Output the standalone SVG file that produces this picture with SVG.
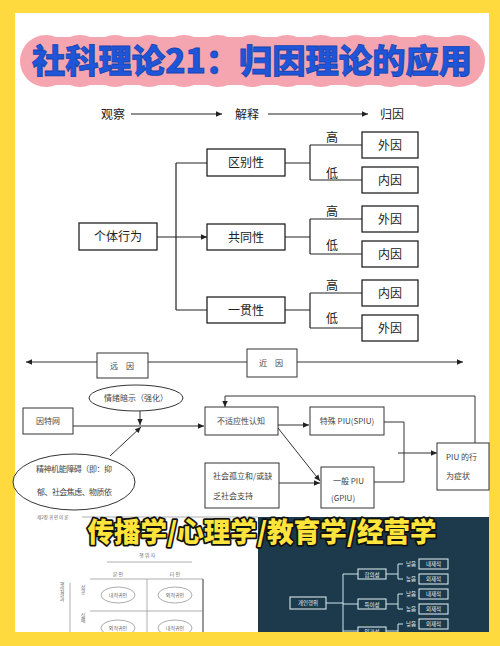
<svg xmlns="http://www.w3.org/2000/svg" width="500" height="646" viewBox="0 0 500 646">
<style>
.t{font-family:"Noto Sans CJK SC","Noto Sans CJK JP",sans-serif;fill:#222}
.k{font-family:"Noto Sans CJK KR",sans-serif}
.m{font-size:12px;text-anchor:middle}
.s{font-size:8px;fill:#444}
.c{text-anchor:middle}
.box{fill:#fff;stroke:#222;stroke-width:1.3}
.sbox{fill:#fff;stroke:#333;stroke-width:1}
.ln{fill:none;stroke:#222;stroke-width:1.2}
.ln2{fill:none;stroke:#333;stroke-width:1}
.g{fill:none;stroke:#999;stroke-width:0.8}
.kt{font-size:5px;fill:#666;text-anchor:middle}
.dk{fill:none;stroke:#cfe6ee;stroke-width:1}
.dt{font-size:5.5px;fill:#e6f3f7;text-anchor:middle}
</style>
<defs>
<marker id="ah" viewBox="0 0 10 10" refX="10" refY="5" markerWidth="8" markerHeight="6" orient="auto-start-reverse" markerUnits="userSpaceOnUse"><path d="M0,0.5 L10,5 L0,9.5 z" fill="#222"/></marker>
<marker id="ah2" viewBox="0 0 10 10" refX="10" refY="5" markerWidth="7" markerHeight="6" orient="auto-start-reverse" markerUnits="userSpaceOnUse"><path d="M0,0.5 L10,5 L0,9.5 z" fill="#222"/></marker>
</defs>
<rect x="0" y="0" width="500" height="646" fill="#FFDA3E"/>
<rect x="15" y="13" width="474" height="619" fill="#fff"/>

<g id="title">
<g fill="#F5A5B0">
<circle cx="46" cy="61" r="26"/><circle cx="80" cy="61" r="26"/><circle cx="115" cy="61" r="26"/><circle cx="149" cy="61" r="26"/><circle cx="184" cy="61" r="26"/><circle cx="218" cy="61" r="26"/><circle cx="252" cy="61" r="26"/><circle cx="287" cy="61" r="26"/><circle cx="321" cy="61" r="26"/><circle cx="356" cy="61" r="26"/><circle cx="390" cy="61" r="26"/><circle cx="425" cy="61" r="26"/><circle cx="459" cy="61" r="26"/>
<rect x="46" y="37" width="413" height="48"/>
</g>
<text x="252" y="73" font-family="'Noto Sans CJK SC',sans-serif" font-size="33" font-weight="900" fill="#1F55D8" stroke="#1544B0" stroke-width="0.8" text-anchor="middle" textLength="440" lengthAdjust="spacingAndGlyphs">社科理论21：归因理论的应用</text>
</g>

<g id="connectors-top">
<path class="ln" d="M131,114 H222" marker-end="url(#ah)"/>
<path class="ln" d="M268,114 H368" marker-end="url(#ah)"/>
<path class="ln" d="M176,163 V310 M176,163 H207 M176,310 H207"/>
<path class="ln" d="M157,237 H207" marker-end="url(#ah)"/>
<path class="ln" d="M285,163 H310 M310,145 V180 M310,145 H362 M310,180 H362"/>
<path class="ln" d="M285,237 H310 M310,219 V254 M310,219 H362 M310,254 H362"/>
<path class="ln" d="M285,310 H310 M310,293 V328 M310,293 H362 M310,328 H362"/>
</g>

<g id="header-labels">
<text class="t m" x="113" y="118.5">观察</text>
<text class="t m" x="247" y="118.5">解释</text>
<text class="t m" x="392" y="118.5">归因</text>
<text class="t m" x="332" y="141.5">高</text>
<text class="t m" x="332" y="177.5">低</text>
<text class="t m" x="332" y="215.5">高</text>
<text class="t m" x="332" y="249.5">低</text>
<text class="t m" x="332" y="289.5">高</text>
<text class="t m" x="332" y="322.5">低</text>
</g>

<g id="node-individual"><rect class="box" x="79" y="223" width="78" height="27"/><text class="t m" x="118" y="241">个体行为</text></g>
<g id="node-distinct"><rect class="box" x="207" y="149" width="78" height="27"/><text class="t m" x="246" y="167">区别性</text></g>
<g id="node-consensus"><rect class="box" x="207" y="224" width="78" height="26"/><text class="t m" x="246" y="241.5">共同性</text></g>
<g id="node-consistency"><rect class="box" x="207" y="297" width="78" height="26"/><text class="t m" x="246" y="314.5">一贯性</text></g>
<g id="node-o1"><rect class="box" x="362" y="132" width="56" height="26"/><text class="t m" x="390" y="149.5">外因</text></g>
<g id="node-o2"><rect class="box" x="362" y="167" width="56" height="26"/><text class="t m" x="390" y="184.5">内因</text></g>
<g id="node-o3"><rect class="box" x="362" y="206" width="56" height="26"/><text class="t m" x="390" y="223.5">外因</text></g>
<g id="node-o4"><rect class="box" x="362" y="241" width="56" height="26"/><text class="t m" x="390" y="258.5">内因</text></g>
<g id="node-o5"><rect class="box" x="362" y="280" width="56" height="26"/><text class="t m" x="390" y="297.5">内因</text></g>
<g id="node-o6"><rect class="box" x="362" y="315" width="56" height="26"/><text class="t m" x="390" y="332.5">外因</text></g>

<g id="connectors-mid">
<path class="ln2" d="M26,362 H97" marker-start="url(#ah2)"/>
<path class="ln2" d="M148,362 H247"/>
<path class="ln2" d="M297,362 H463" marker-end="url(#ah2)"/>
<path class="ln2" d="M140,411 V425" marker-end="url(#ah2)"/>
<path class="ln2" d="M73,426 H204" marker-end="url(#ah2)"/>
<path class="ln2" d="M110,456 L141,427" marker-end="url(#ah2)"/>
<path class="ln2" d="M278,425 H309" marker-end="url(#ah2)"/>
<path class="ln2" d="M384,422 H404 V482 H374"/>
<path class="ln2" d="M398,453 H437" marker-end="url(#ah2)"/>
<path class="ln2" d="M475,443 V396 H225 V407" marker-end="url(#ah2)"/>
<path class="ln2" d="M279,483 H320" marker-end="url(#ah2)"/>
<path class="ln2" d="M278,428 L320,481" marker-end="url(#ah2)"/>
</g>

<g id="node-distal"><rect class="sbox" x="97" y="353" width="51" height="25"/><text class="t s c" x="122" y="369">远　因</text></g>
<g id="node-proximal"><rect class="sbox" x="247" y="349" width="50" height="28"/><text class="t s c" x="271" y="366">近　因</text></g>
<g id="node-emotion"><ellipse cx="136" cy="398" rx="47" ry="13" fill="#fff" stroke="#333" stroke-width="1"/><text class="t s c" x="136" y="401">情绪暗示（强化）</text></g>
<g id="node-internet"><rect class="sbox" x="23" y="408" width="50" height="26"/><text class="t s c" x="48" y="424">因特网</text></g>
<g id="node-psych"><ellipse cx="74" cy="482" rx="61" ry="28" fill="#fff" stroke="#333" stroke-width="1"/><text class="t s" x="36" y="472" font-size="7.5" textLength="76">精神机能障碍（即：抑</text><text class="t s" x="37" y="495" font-size="7.5" textLength="75">郁、社会焦虑、物质依</text></g>
<g id="node-maladaptive"><rect class="sbox" x="205" y="407" width="73" height="28"/><text class="t s c" x="241" y="424">不适应性认知</text></g>
<g id="node-spiu"><rect class="sbox" x="310" y="407" width="74" height="28"/><text class="t s c" x="347" y="424">特殊 PIU(SPIU)</text></g>
<g id="node-social"><rect class="sbox" x="205" y="463" width="74" height="45"/><text class="t s" x="213" y="479">社会孤立和/或缺</text><text class="t s" x="213" y="499">乏社会支持</text></g>
<g id="node-gpiu"><rect class="sbox" x="321" y="467" width="53" height="41"/><text class="t s" x="333" y="484">一般 PIU</text><text class="t s" x="331" y="501">(GPIU)</text></g>
<g id="node-symptom"><rect class="sbox" x="437" y="443" width="52" height="47"/><text class="t s" x="446" y="460">PIU 的行</text><text class="t s" x="446" y="479">为症状</text></g>

<g id="korean-table">
<text class="k" x="37" y="518.5" font-size="4.5" fill="#666">제2장 귀 인 이 론</text>
<path class="g" d="M82,517 H258"/>
<text class="k kt" x="147" y="557" font-size="6">행 위 자</text>
<path class="g" d="M107,562 H192"/>
<text class="k kt" x="118" y="576">본 인</text>
<text class="k kt" x="175" y="576">타 인</text>
<path class="g" d="M90,579 H203 M147,579 V632 M90,611 H203 M70,583 V632"/>
<path d="M203,579 V632" stroke="#777" stroke-width="1.5"/>
<g fill="none" stroke="#888" stroke-width="0.7">
<ellipse cx="118" cy="595" rx="17" ry="8"/><ellipse cx="175" cy="595" rx="17" ry="8"/>
<ellipse cx="118" cy="628" rx="17" ry="8"/><ellipse cx="175" cy="628" rx="17" ry="8"/>
</g>
<text class="k kt" x="118" y="597">내적귀인</text>
<text class="k kt" x="175" y="597">외적귀인</text>
<text class="k kt" x="118" y="630">외적귀인</text>
<text class="k kt" x="175" y="630">내적귀인</text>
<text class="k kt" x="62" y="592" style="writing-mode:vertical-rl">행위결과</text>
<text class="k kt" x="83" y="590" style="writing-mode:vertical-rl">성공</text>
<text class="k kt" x="83" y="618" style="writing-mode:vertical-rl">실패</text>
</g>

<g id="dark-panel">
<rect x="258" y="517" width="231" height="115" fill="#1C3A4C"/>
<path class="dk" d="M326,603 H343 M343,574 V632 M343,574 H358 M343,604 H358 M343,631 H358"/>
<path class="dk" d="M386,574 H398 M398,564 V579 M398,564 H403 M398,579 H403"/>
<path class="dk" d="M386,604 H398 M398,594 V609 M398,594 H403 M398,609 H403"/>
<path class="dk" d="M386,631 H398 M398,624 V632 M398,624 H403"/>
<g fill="none" stroke="#e6f3f7" stroke-width="1">
<rect x="290" y="597" width="36" height="12"/>
<rect x="358" y="569" width="28" height="10"/>
<rect x="358" y="599" width="28" height="10"/>
<rect x="358" y="627" width="28" height="10"/>
<rect x="419" y="559" width="29" height="10"/>
<rect x="419" y="574" width="29" height="10"/>
<rect x="419" y="589" width="29" height="10"/>
<rect x="419" y="604" width="29" height="10"/>
<rect x="419" y="619" width="29" height="10"/>
</g>
<text class="k dt" x="308" y="605">개인행위</text>
<text class="k dt" x="372" y="576.5">합의성</text>
<text class="k dt" x="372" y="606.5">특이성</text>
<text class="k dt" x="372" y="634">일관성</text>
<text class="k dt" x="411" y="566">낮음</text>
<text class="k dt" x="411" y="581">높음</text>
<text class="k dt" x="411" y="596">낮음</text>
<text class="k dt" x="411" y="611">높음</text>
<text class="k dt" x="411" y="626">낮음</text>
<text class="k dt" x="433.5" y="566">내재적</text>
<text class="k dt" x="433.5" y="581">외재적</text>
<text class="k dt" x="433.5" y="596">내재적</text>
<text class="k dt" x="433.5" y="611">외재적</text>
<text class="k dt" x="433.5" y="626">외재적</text>
</g>

<rect x="0" y="632" width="500" height="14" fill="#FFDA3E"/>

<g id="subtitle">
<text x="262" y="542" font-family="'Noto Sans CJK SC',sans-serif" font-size="27" font-weight="900" fill="#FFE53B" stroke="#111" stroke-width="3.5" stroke-linejoin="round" paint-order="stroke" text-anchor="middle" textLength="349" lengthAdjust="spacingAndGlyphs">传播学/心理学/教育学/经营学</text>
</g>
</svg>
